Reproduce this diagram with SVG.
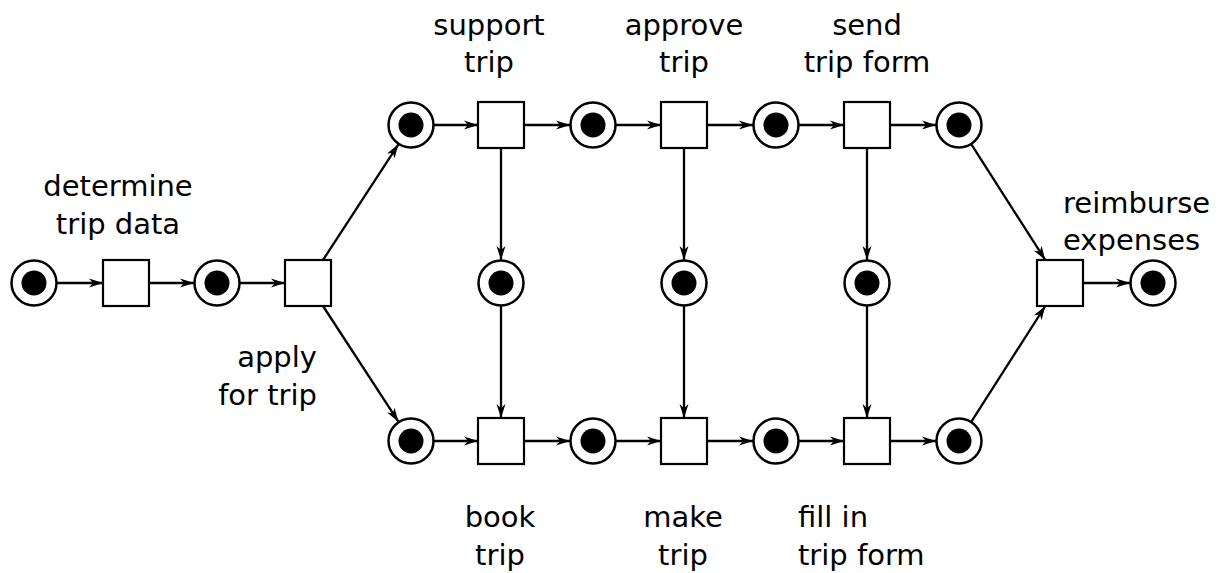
<svg xmlns="http://www.w3.org/2000/svg" width="1222" height="573" viewBox="0 0 1222 573">
<defs>
<marker id="ah" viewBox="0 0 14 10" refX="14" refY="5" markerWidth="14" markerHeight="10" markerUnits="userSpaceOnUse" orient="auto">
<path d="M0,0.5 L14,5 L0,9.5 L4,5 z" fill="#000"/>
</marker>
<g id="placeShape"><circle r="22.5" fill="#fff" stroke="#000" stroke-width="2.5"/><circle r="12.5" fill="#000"/></g>
</defs>
<style>
.t{fill:#fff;stroke:#000;stroke-width:2.2}
.a{stroke:#000;stroke-width:2.3;fill:none;marker-end:url(#ah)}
text{font-family:"DejaVu Sans","Verdana",sans-serif;font-size:29px;fill:#000}
.m{text-anchor:middle}.e{text-anchor:end}
</style>
<rect width="1222" height="573" fill="#fff"/>
<g id="connectors">
<line class="a" x1="57" y1="283" x2="103" y2="283"/>
<line class="a" x1="149" y1="283" x2="194" y2="283"/>
<line class="a" x1="240" y1="283" x2="285" y2="283"/>
<line class="a" x1="323" y1="260" x2="398.4" y2="144.3"/>
<line class="a" x1="323" y1="306" x2="398.4" y2="421.7"/>
<line class="a" x1="434" y1="125" x2="478" y2="125"/>
<line class="a" x1="524" y1="125" x2="570" y2="125"/>
<line class="a" x1="616" y1="125" x2="661" y2="125"/>
<line class="a" x1="707" y1="125" x2="753" y2="125"/>
<line class="a" x1="799" y1="125" x2="844" y2="125"/>
<line class="a" x1="890" y1="125" x2="936" y2="125"/>
<line class="a" x1="434" y1="441" x2="478" y2="441"/>
<line class="a" x1="524" y1="441" x2="570" y2="441"/>
<line class="a" x1="616" y1="441" x2="661" y2="441"/>
<line class="a" x1="707" y1="441" x2="753" y2="441"/>
<line class="a" x1="799" y1="441" x2="844" y2="441"/>
<line class="a" x1="890" y1="441" x2="936" y2="441"/>
<line class="a" x1="501" y1="148" x2="501" y2="260"/>
<line class="a" x1="501" y1="306" x2="501" y2="418"/>
<line class="a" x1="684" y1="148" x2="684" y2="260"/>
<line class="a" x1="684" y1="306" x2="684" y2="418"/>
<line class="a" x1="867" y1="148" x2="867" y2="260"/>
<line class="a" x1="867" y1="306" x2="867" y2="418"/>
<line class="a" x1="971.4" y1="144.4" x2="1045.3" y2="260"/>
<line class="a" x1="971.4" y1="421.6" x2="1045.3" y2="306"/>
<line class="a" x1="1083" y1="283" x2="1130" y2="283"/>
</g>
<g id="p0"><use href="#placeShape" x="34" y="283"/></g>
<g id="t_determine"><rect class="t" x="103" y="260" width="46" height="46"/><text class="m" x="118" y="196">determine</text><text class="m" x="118" y="234">trip data</text></g>
<g id="p1"><use href="#placeShape" x="217" y="283"/></g>
<g id="t_apply"><rect class="t" x="285" y="260" width="46" height="46"/><text class="e" x="317" y="367">apply</text><text class="e" x="317" y="405">for trip</text></g>
<g id="pt1"><use href="#placeShape" x="411" y="125"/></g>
<g id="t_support"><rect class="t" x="478" y="102" width="46" height="46"/><text class="m" x="489" y="35">support</text><text class="m" x="489" y="72">trip</text></g>
<g id="pt2"><use href="#placeShape" x="593" y="125"/></g>
<g id="t_approve"><rect class="t" x="661" y="102" width="46" height="46"/><text class="m" x="684" y="35">approve</text><text class="m" x="684" y="72">trip</text></g>
<g id="pt3"><use href="#placeShape" x="776" y="125"/></g>
<g id="t_send"><rect class="t" x="844" y="102" width="46" height="46"/><text class="m" x="867" y="35">send</text><text class="m" x="867" y="72">trip form</text></g>
<g id="pt4"><use href="#placeShape" x="959" y="125"/></g>
<g id="pm1"><use href="#placeShape" x="501" y="283"/></g>
<g id="pm2"><use href="#placeShape" x="684" y="283"/></g>
<g id="pm3"><use href="#placeShape" x="867" y="283"/></g>
<g id="pb1"><use href="#placeShape" x="411" y="441"/></g>
<g id="t_book"><rect class="t" x="478" y="418" width="46" height="46"/><text class="m" x="500" y="527">book</text><text class="m" x="500" y="565">trip</text></g>
<g id="pb2"><use href="#placeShape" x="593" y="441"/></g>
<g id="t_make"><rect class="t" x="661" y="418" width="46" height="46"/><text class="m" x="683" y="527">make</text><text class="m" x="683" y="565">trip</text></g>
<g id="pb3"><use href="#placeShape" x="776" y="441"/></g>
<g id="t_fill"><rect class="t" x="844" y="418" width="46" height="46"/><text x="798" y="527">fill in</text><text x="798" y="565">trip form</text></g>
<g id="pb4"><use href="#placeShape" x="959" y="441"/></g>
<g id="t_reimburse"><rect class="t" x="1037" y="260" width="46" height="46"/><text x="1063" y="213">reimburse</text><text x="1063" y="250">expenses</text></g>
<g id="pend"><use href="#placeShape" x="1153" y="283"/></g>
</svg>
